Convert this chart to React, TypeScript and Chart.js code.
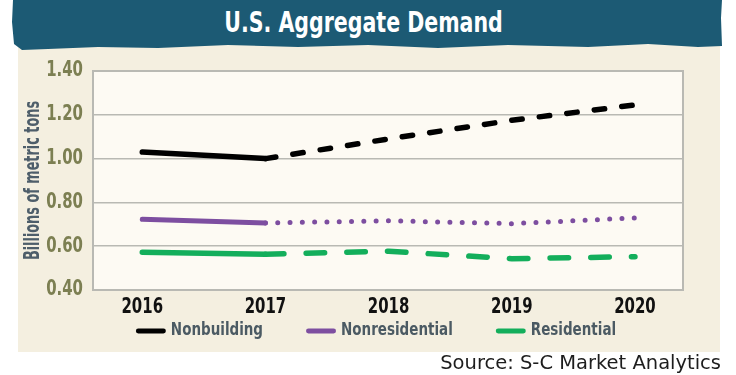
import React, { useEffect, useRef } from "react";
import { Chart, registerables } from "chart.js";

Chart.register(...registerables);

// ---- data ----
const years = [2016, 2017, 2018, 2019, 2020];
const nonbuilding = [1.03, 1.0, 1.09, 1.175, 1.245];
const nonresidential = [0.723, 0.706, 0.716, 0.703, 0.729];
const residential = [0.572, 0.563, 0.577, 0.543, 0.552];
const yTickValues = [0.4, 0.6, 0.8, 1.0, 1.2, 1.4];
const seriesLabels = ["Nonbuilding", "Nonresidential", "Residential"];
const seriesColors = ["#000000", "#7d4ea0", "#13ae5b"];
const titleText = "U.S. Aggregate Demand";
const yAxisTitle = "Billions of metric tons";
const sourceText = "Source: S-C Market Analytics";

const FAMILY = "'DejaVu Sans Condensed', 'DejaVu Sans', sans-serif";
const TEXT_SQUEEZE = 0.81; // horizontal squeeze to mimic a narrow gothic face
const YTITLE_SQUEEZE = 0.68;

const X_AXIS_H = 30;

const toPoints = (vals: number[]) => years.map((x, i) => ({ x, y: vals[i] }));

const chartPlugin = {
  id: "frameAndLegend",
  beforeDraw(chart: any) {
    const { ctx, chartArea: a } = chart;
    ctx.save();
    ctx.fillStyle = "#fdfaf3";
    ctx.fillRect(a.left, a.top, a.right - a.left, a.bottom - a.top);
    ctx.restore();
  },
  beforeDatasetsDraw(chart: any) {
    const { ctx, chartArea: a } = chart;
    ctx.save();
    ctx.strokeStyle = "#b9b9b3";
    ctx.lineWidth = 2;
    ctx.strokeRect(a.left, a.top, a.right - a.left, a.bottom - a.top);
    ctx.restore();
  },
  afterDraw(chart: any) {
    const { ctx } = chart;
    const ds = chart.data.datasets;
    const swatch = 30;
    const textGap = 5;
    const itemGap = 43;
    const cy = 331;
    const centerX = 376;
    ctx.save();
    ctx.font = `bold 18.5px ${FAMILY}`;
    const widths = ds.map((d: any) => ctx.measureText(d.label).width * TEXT_SQUEEZE);
    const total =
      widths.reduce((s: number, w: number) => s + swatch + textGap + w, 0) +
      itemGap * (ds.length - 1);
    let x = centerX - total / 2;
    ds.forEach((d: any, i: number) => {
      ctx.strokeStyle = d.borderColor;
      ctx.lineWidth = 4.8;
      ctx.lineCap = "round";
      ctx.setLineDash([]);
      ctx.beginPath();
      ctx.moveTo(x + 2.4, cy);
      ctx.lineTo(x + swatch - 2.4, cy);
      ctx.stroke();
      ctx.fillStyle = "#4b5a63";
      ctx.textBaseline = "middle";
      ctx.textAlign = "left";
      ctx.fillText(d.label, x + swatch + textGap, cy - 1);
      x += swatch + textGap + widths[i] + itemGap;
    });
    ctx.restore();
  },
};

export default function App() {
  const canvasRef = useRef<HTMLCanvasElement | null>(null);

  useEffect(() => {
    const canvas = canvasRef.current;
    if (!canvas) return;
    const c2d = canvas.getContext("2d") as any;
    const origFill = c2d.fillText.bind(c2d);
    c2d.fillText = function (text: string, x: number, y: number, maxWidth?: number) {
      const sx = String(text) === yAxisTitle ? YTITLE_SQUEEZE : TEXT_SQUEEZE;
      c2d.save();
      c2d.translate(x, y);
      c2d.scale(sx, 1);
      if (maxWidth !== undefined && maxWidth !== null) origFill(text, 0, 0, maxWidth / sx);
      else origFill(text, 0, 0);
      c2d.restore();
    };

    const chart = new Chart(canvas, {
      type: "line",
      data: {
        datasets: [
          {
            label: seriesLabels[0],
            data: toPoints(nonbuilding),
            borderColor: seriesColors[0],
            borderWidth: 5.5,
            borderCapStyle: "round",
            borderJoinStyle: "round",
            pointRadius: 0,
            tension: 0,
            segment: {
              borderDash: (c: any) => (c.p0DataIndex >= 1 ? [10.5, 17.2] : undefined),
            },
          },
          {
            label: seriesLabels[1],
            data: toPoints(nonresidential),
            borderColor: seriesColors[1],
            borderWidth: 5,
            borderCapStyle: "round",
            borderJoinStyle: "round",
            pointRadius: 0,
            tension: 0,
            segment: {
              borderDash: (c: any) => (c.p0DataIndex >= 1 ? [0, 12.3] : undefined),
            },
          },
          {
            label: seriesLabels[2],
            data: toPoints(residential),
            borderColor: seriesColors[2],
            borderWidth: 5.5,
            borderCapStyle: "round",
            borderJoinStyle: "round",
            pointRadius: 0,
            tension: 0,
            segment: {
              borderDash: (c: any) => (c.p0DataIndex >= 1 ? [18.5, 22.2] : undefined),
            },
          },
        ],
      } as any,
      options: {
        animation: false,
        responsive: false,
        maintainAspectRatio: false,
        layout: { padding: { left: 0, right: 53, top: 71, bottom: 375 - 290 - X_AXIS_H } },
        plugins: {
          legend: { display: false },
          tooltip: { enabled: false },
          title: { display: false },
        },
        scales: {
          x: {
            type: "linear",
            min: 2015.6,
            max: 2020.39,
            afterBuildTicks: (s: any) => {
              s.ticks = years.map((v) => ({ value: v }));
            },
            afterFit: (s: any) => {
              s.height = X_AXIS_H;
            },
            grid: { display: false, drawTicks: false },
            border: { display: false },
            ticks: {
              padding: 5,
              color: "#111111",
              autoSkip: false,
              maxRotation: 0,
              font: { family: FAMILY, size: 20.5, weight: "bold" },
              callback: (v: any) => String(v),
            },
          },
          y: {
            min: 0.4,
            max: 1.4,
            afterBuildTicks: (s: any) => {
              s.ticks = yTickValues.map((v) => ({ value: v }));
            },
            afterFit: (s: any) => {
              s.width = 93;
            },
            grid: { color: "#b9b9b3", lineWidth: 1.5, drawTicks: false },
            border: { display: false },
            ticks: {
              padding: 10,
              color: "#7c7f52",
              font: { family: FAMILY, size: 20.5, weight: "bold" },
              callback: (v: any) => Number(v).toFixed(2),
            },
            title: {
              display: true,
              text: yAxisTitle,
              color: "#4e5e6a",
              font: { family: FAMILY, size: 21, weight: "bold" },
              padding: { top: 20.7, bottom: 0 },
            },
          },
        },
      } as any,
      plugins: [chartPlugin],
    });
    return () => {
      chart.destroy();
      c2d.fillText = origFill;
    };
  }, []);

  return (
    <div
      style={{
        position: "absolute",
        left: 0,
        top: 0,
        width: 736,
        height: 375,
        background: "#ffffff",
        overflow: "hidden",
      }}
    >
      <div
        style={{
          position: "absolute",
          left: 18,
          top: 36,
          width: 702,
          height: 316,
          background: "#f4efe0",
        }}
      />
      <div
        style={{
          position: "absolute",
          left: 8,
          top: 0,
          width: 718,
          height: 52,
          background: "#1c5a74",
          clipPath:
            "polygon(5px 0px, 714px 0px, 713px 18px, 714px 46px, 690px 47px, 640px 44px, 580px 47px, 500px 45px, 430px 48px, 360px 45px, 290px 47px, 220px 45px, 150px 48px, 90px 47px, 40px 49px, 14px 50px, 6px 44px, 4px 22px)",
        }}
      />
      <div
        style={{
          position: "absolute",
          left: 0,
          top: 4,
          width: 727,
          textAlign: "center",
          color: "#ffffff",
          fontFamily: FAMILY,
          fontWeight: 700,
          fontSize: 27.5,
          lineHeight: "36px",
          transform: "scaleX(0.83)",
          transformOrigin: "363.5px 50%",
          whiteSpace: "nowrap",
        }}
      >
        {titleText}
      </div>
      <canvas
        ref={canvasRef}
        width={736}
        height={375}
        style={{ position: "absolute", left: 0, top: 0, width: 736, height: 375 }}
      />
      <div
        style={{
          position: "absolute",
          right: 15,
          top: 352,
          font: "19.5px 'DejaVu Sans', sans-serif",
          color: "#1d1d1d",
          lineHeight: "22px",
          whiteSpace: "nowrap",
        }}
      >
        {sourceText}
      </div>
    </div>
  );
}
